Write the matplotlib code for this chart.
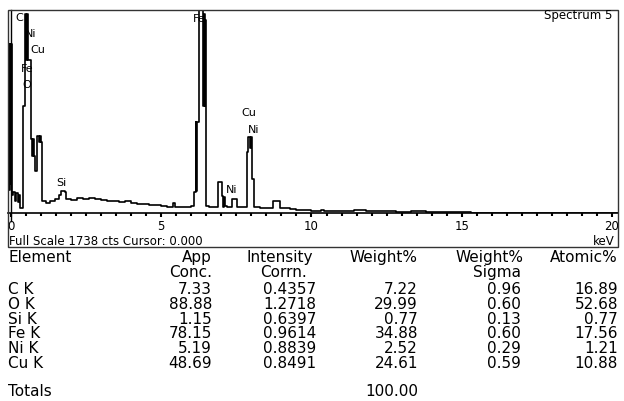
import matplotlib.pyplot as plt
from matplotlib.patches import Rectangle

plt.rcParams['font.family'] = ['DejaVu Sans']

# spectrum (keV, counts), drawn as steps
energy = [-0.08, -0.06, -0.04, -0.02, 0.00, 0.03, 0.07, 0.12, 0.17, 0.22, 0.26, 0.30,
          0.40, 0.47, 0.50, 0.52, 0.57, 0.67, 0.70, 0.73, 0.76, 0.80, 0.87, 0.92, 0.95, 0.99,
          1.03, 1.15, 1.30, 1.46, 1.60, 1.66, 1.80, 1.84, 2.00, 2.20, 2.40, 2.60, 2.80,
          3.00, 3.20, 3.40, 3.60, 3.80, 4.00, 4.20, 4.40, 4.60, 4.80, 5.00, 5.20, 5.38,
          5.45, 5.60, 5.80, 6.00, 6.10, 6.14, 6.17, 6.20, 6.25, 6.38, 6.41, 6.44, 6.47,
          6.50, 6.60, 6.75, 6.90, 7.01, 7.04, 7.08, 7.12, 7.18, 7.34, 7.51, 7.84, 7.90,
          7.96, 7.99, 8.03, 8.08, 8.30, 8.55, 8.73, 8.95, 9.10, 9.30, 9.50, 10.00, 10.30,
          10.40, 11.10, 11.40, 11.80, 12.30, 12.80, 13.30, 13.80, 14.30, 14.80, 15.30, 20.2]
counts = [1450, 200, 1450, 250, 1450, 150, 180, 100, 170, 90, 150, 40,
          916, 1700, 1310, 1700, 1310, 630, 490, 630, 490, 360, 660, 610, 660, 610,
          100, 85, 100, 120, 150, 190, 180, 120, 115, 125, 120, 128, 120,
          110, 105, 100, 95, 100, 88, 80, 78, 70, 65, 60, 55, 85,
          55, 52, 55, 58, 180, 780, 190, 780, 1738, 916, 1700, 916, 1650,
          60, 55, 50, 265, 146, 51, 140, 60, 51, 120, 51, 522, 650,
          560, 650, 291, 50, 45, 45, 103, 45, 40, 30, 22, 18, 28,
          18, 20, 25, 20, 15, 12, 14, 10, 12, 8, 0, 0]

full_scale = 1738

peak_labels = ['C', 'Ni', 'Cu', 'Fe', 'O', 'Si', 'Fe', 'Cu', 'Ni', 'Ni']
peak_x = [0.27, 0.65, 0.90, 0.55, 0.52, 1.66, 6.26, 7.90, 8.07, 7.34]
peak_y = [1678, 1541, 1400, 1245, 1104, 265, 1673, 865, 719, 205]

# quantification table
elements = ['C K', 'O K', 'Si K', 'Fe K', 'Ni K', 'Cu K']
app_conc = [7.33, 88.88, 1.15, 78.15, 5.19, 48.69]
intensity_corrn = [0.4357, 1.2718, 0.6397, 0.9614, 0.8839, 0.8491]
weight_pct = [7.22, 29.99, 0.77, 34.88, 2.52, 24.61]
weight_sigma = [0.96, 0.60, 0.13, 0.60, 0.29, 0.59]
atomic_pct = [16.89, 52.68, 0.77, 17.56, 1.21, 10.88]
total_weight = 100.00

W, H = 624, 402
fig = plt.figure(figsize=(W / 100, H / 100), dpi=100)


def fx(px):
    return px / W


def fy(py):
    return 1 - py / H


# outer box of the spectrum panel
fig.patches.append(Rectangle((fx(8), fy(248)), fx(618) - fx(8), fy(11) - fy(248),
                             transform=fig.transFigure, fill=False,
                             edgecolor='#333333', linewidth=1))

ax = fig.add_axes([fx(8), fy(214), fx(618) - fx(8), fy(11) - fy(214)])
ax.step(energy, counts, where='post', color='black', linewidth=1.2)
ax.set_xlim(-0.1, 20.2)
ax.set_ylim(0, full_scale)
for s in ['top', 'left', 'right']:
    ax.spines[s].set_visible(False)
ax.spines['bottom'].set_linewidth(1.2)
ax.set_yticks([])
ax.set_xticks([0, 5, 10, 15, 20])
ax.set_xticks([i * 0.5 for i in range(41)], minor=True)
ax.tick_params(axis='x', which='major', direction='out', length=3, width=1.5,
               labelsize=8.5, pad=1)
ax.tick_params(axis='x', which='minor', direction='out', length=2.5, width=1.5)
ax.patch.set_alpha(0)

# cursor at 0.000 keV
ax.axvline(0, ymin=-0.04, ymax=1, color='black', linewidth=1, clip_on=False)

for lab, x, y in zip(peak_labels, peak_x, peak_y):
    ax.text(x, y, lab, ha='center', va='center', fontsize=8)

fig.text(fx(612), fy(16), 'Spectrum 5', ha='right', va='center', fontsize=8.5)
fig.text(fx(9), fy(242), f'Full Scale {full_scale} cts Cursor: 0.000',
         ha='left', va='center', fontsize=8.5)
fig.text(fx(615), fy(242), 'keV', ha='right', va='center', fontsize=8.5)

# table
tfs = 11
fig.text(fx(8), fy(258), 'Element', ha='left', va='center', fontsize=tfs)
fig.text(fx(212), fy(258), 'App', ha='right', va='center', fontsize=tfs)
fig.text(fx(212), fy(273), 'Conc.', ha='right', va='center', fontsize=tfs)
fig.text(fx(313), fy(258), 'Intensity', ha='right', va='center', fontsize=tfs)
fig.text(fx(307), fy(273), 'Corrn.', ha='right', va='center', fontsize=tfs)
fig.text(fx(418), fy(258), 'Weight%', ha='right', va='center', fontsize=tfs)
fig.text(fx(523), fy(258), 'Weight%', ha='right', va='center', fontsize=tfs)
fig.text(fx(521), fy(273), 'Sigma', ha='right', va='center', fontsize=tfs)
fig.text(fx(618), fy(258), 'Atomic%', ha='right', va='center', fontsize=tfs)

for i, el in enumerate(elements):
    y = fy(290 + i * 14.6)
    fig.text(fx(8), y, el, ha='left', va='center', fontsize=tfs)
    fig.text(fx(212), y, f'{app_conc[i]:.2f}', ha='right', va='center', fontsize=tfs)
    fig.text(fx(316), y, f'{intensity_corrn[i]:.4f}', ha='right', va='center', fontsize=tfs)
    fig.text(fx(418), y, f'{weight_pct[i]:.2f}', ha='right', va='center', fontsize=tfs)
    fig.text(fx(521), y, f'{weight_sigma[i]:.2f}', ha='right', va='center', fontsize=tfs)
    fig.text(fx(618), y, f'{atomic_pct[i]:.2f}', ha='right', va='center', fontsize=tfs)

fig.text(fx(8), fy(392), 'Totals', ha='left', va='center', fontsize=tfs)
fig.text(fx(418), fy(392), f'{total_weight:.2f}', ha='right', va='center', fontsize=tfs)

fig.savefig('out.png', dpi=100)
